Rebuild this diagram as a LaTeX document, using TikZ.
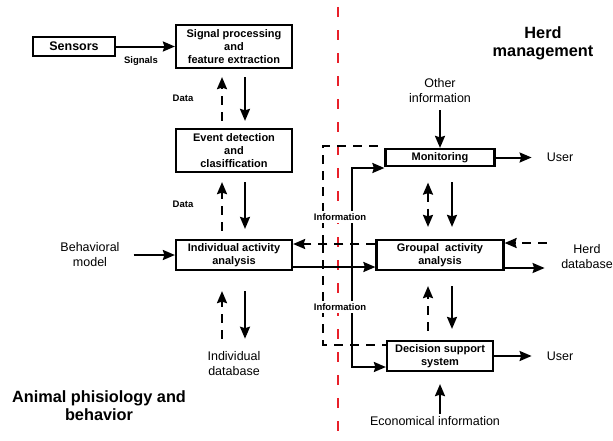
\documentclass[tikz,border=0pt]{standalone}
\usepackage{fontspec}
\setmainfont{Liberation Sans}
\usetikzlibrary{arrows.meta, positioning}
\definecolor{splitRed}{HTML}{E8202A}

\begin{document}
\begin{tikzpicture}[
    x=1pt, y=-1pt,
    box/.style={draw, line width=2.2pt, font=\fontsize{11}{13}\selectfont\bfseries, align=center, inner sep=0pt},
    note/.style={font=\fontsize{12.5}{15}\selectfont, align=center, inner sep=2pt},
    tag/.style={font=\fontsize{9.5}{11}\selectfont\bfseries, inner sep=2pt},
    heading/.style={font=\fontsize{16.3}{18}\selectfont\bfseries, align=center},
    arr/.style={-{Stealth[length=12pt,width=10pt,inset=1.5pt]}, line width=2pt},
    dasharr/.style={arr, dash pattern=on 9pt off 7pt},
    dblarr/.style={{Stealth[length=12pt,width=10pt,inset=1.5pt]}-{Stealth[length=12pt,width=10pt,inset=1.5pt]}, line width=2pt, dash pattern=on 9pt off 7pt},
    dashline/.style={line width=2pt, dash pattern=on 9pt off 7pt},
    splitline/.style={draw=splitRed, line width=2.2pt, dash pattern=on 10pt off 13pt, dash phase=16pt}
  ]
  \useasboundingbox (0,0) rectangle (613,440);

  % boundary between the two levels
  \coordinate (splittop) at (338,0);
  \coordinate (splitbot) at (338,440);
  \draw[splitline] (splittop) -- (splitbot);

  % titles
  \node[heading] (herd) at (543,43) {Herd\\management};
  \node[heading] (animal) at (99,406) {Animal phisiology and\\behavior};

  % individual level
  \node[box, minimum width=82pt, minimum height=19pt, font=\fontsize{12.5}{15}\selectfont\bfseries] (sensors) at (74,46.5) {Sensors};
  \node[box, minimum width=116pt, minimum height=43pt] (sigproc) at (234,46.5) {Signal processing\\and\\feature extraction};
  \node[box, minimum width=116pt, minimum height=43pt] (event) at (234,150.5) {Event detection\\and\\clasiffication};
  \node[box, minimum width=116pt, minimum height=30pt] (indiv) at (234,255) {Individual activity\\analysis};
  \node[note] (behav) at (90,255) {Behavioral\\model};
  \node[note] (indivdb) at (234,364) {Individual\\database};
  \node[tag] (signals) at (141,61) {Signals};
  \node[tag] (data1) at (183,98) {Data};
  \node[tag] (data2) at (183,204) {Data};

  \draw[arr] (sensors) -- (sigproc);
  \draw[arr] ([xshift=11pt,yshift=-8pt]sigproc.south) -- ([xshift=11pt,yshift=7pt]event.north);
  \draw[dasharr] ([xshift=-12pt,yshift=7pt]event.north) -- ([xshift=-12pt,yshift=-8pt]sigproc.south);
  \draw[arr] ([xshift=11pt,yshift=-9pt]event.south) -- ([xshift=11pt,yshift=10pt]indiv.north);
  \draw[dasharr] ([xshift=-12pt,yshift=8pt]indiv.north) -- ([xshift=-12pt,yshift=-9pt]event.south);
  \draw[arr] ([xshift=11pt,yshift=-20pt]indiv.south) -- ([xshift=11pt,yshift=11pt]indivdb.north);
  \draw[dasharr] ([xshift=-12pt,yshift=11pt]indivdb.north) -- ([xshift=-12pt,yshift=-20pt]indiv.south);
  \draw[arr] ([xshift=12pt]behav.east) -- (indiv.west);

  % herd level
  \node[box, minimum width=109pt, minimum height=17pt] (monit) at (440,157.5) {Monitoring};
  \node[box, minimum width=127pt, minimum height=30pt] (groupal) at (440,255) {Groupal\ \ activity\\analysis};
  \node[box, minimum width=106pt, minimum height=30pt] (decision) at (440,356) {Decision support\\system};
  \node[note] (otherinfo) at (440,91) {Other\\information};
  \node[note] (user1) at (560,157.5) {User};
  \node[note] (user2) at (560,356) {User};
  \node[note] (herddb) at (587,257) {Herd\\database};
  \node[note] (econ) at (435,421) {Economical information};

  \draw[arr] ([yshift=-5pt]otherinfo.south) -- (monit.north);
  \draw[arr] (monit.east) -- ([xshift=-13pt]user1.west);
  \draw[dblarr] ([xshift=-12pt,yshift=-15.5pt]monit.south) -- ([xshift=-12pt,yshift=12pt]groupal.north);
  \draw[arr] ([xshift=12pt,yshift=-15pt]monit.south) -- ([xshift=12pt,yshift=12pt]groupal.north);
  \draw[arr] ([yshift=-13pt]groupal.east) -- ([xshift=-14.5pt,yshift=-11pt]herddb.west);
  \draw[dasharr] ([xshift=-12.5pt,yshift=14pt]herddb.west) -- ([yshift=12pt]groupal.east);
  \draw[arr] ([xshift=12pt,yshift=-15pt]groupal.south) -- ([xshift=12pt,yshift=11pt]decision.north);
  \draw[dasharr] ([xshift=-12pt,yshift=9pt]decision.north) -- ([xshift=-12pt,yshift=-15pt]groupal.south);
  \draw[arr] (decision.east) -- ([xshift=-13pt]user2.west);
  \draw[arr] (econ.north -| decision.south) -- ([yshift=-12pt]decision.south);

  % information exchange between levels
  \draw[arr] ([yshift=-12pt]indiv.east) -- ([yshift=-12pt]groupal.west);
  \draw[dasharr] ([yshift=11pt]groupal.west) -- ([yshift=11pt]indiv.east);
  \coordinate (infohub) at (352,267);
  \coordinate (feedhub) at (323,244);
  \draw[arr] (infohub) |- ([yshift=-10.5pt]monit.west);
  \draw[arr] (infohub) |- ([yshift=-11pt]decision.west);
  \draw[dashline] (feedhub) |- ([yshift=11.5pt]monit.west);
  \draw[dashline] (feedhub) |- ([yshift=11pt]decision.west);
  \node[tag, fill=white, inner sep=3pt] (info1) at (340,217) {Information};
  \node[tag, fill=white, inner sep=3pt] (info2) at (340,307) {Information};
\end{tikzpicture}
\end{document}
